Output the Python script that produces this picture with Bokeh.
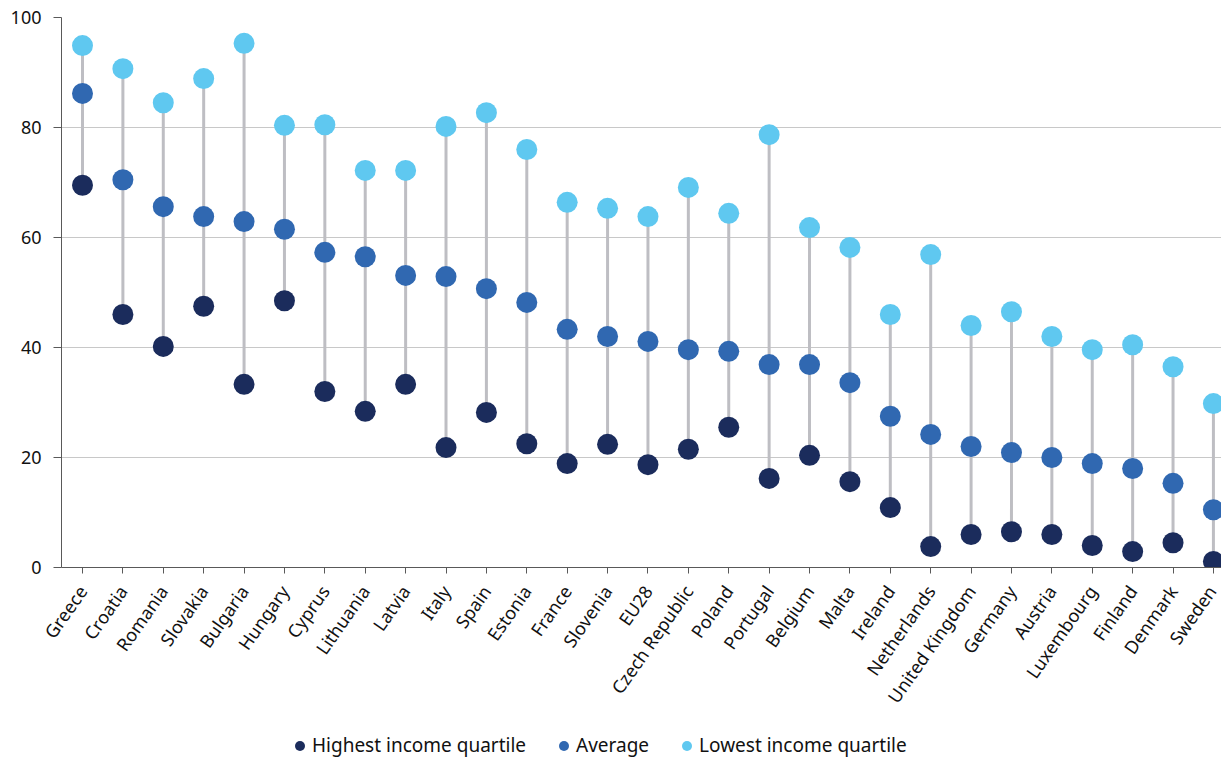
from bokeh.plotting import figure
from bokeh.layouts import column
from bokeh.models import Range1d, FixedTicker, Legend, LegendItem, ColumnDataSource
from bokeh.embed import file_html
from bokeh.resources import INLINE
import math

countries = ["Greece", "Croatia", "Romania", "Slovakia", "Bulgaria", "Hungary", "Cyprus",
             "Lithuania", "Latvia", "Italy", "Spain", "Estonia", "France", "Slovenia", "EU28",
             "Czech Republic", "Poland", "Portugal", "Belgium", "Malta", "Ireland", "Netherlands",
             "United Kingdom", "Germany", "Austria", "Luxembourg", "Finland", "Denmark", "Sweden"]
highest = [69.5, 46.0, 40.2, 47.5, 33.3, 48.5, 32.0, 28.4, 33.3, 21.8, 28.2, 22.5, 18.9, 22.4, 18.7,
           21.5, 25.5, 16.2, 20.4, 15.6, 10.9, 3.8, 6.0, 6.5, 6.0, 4.0, 2.9, 4.5, 1.1]
average = [86.2, 70.5, 65.6, 63.8, 62.9, 61.5, 57.3, 56.5, 53.1, 52.9, 50.7, 48.2, 43.3, 42.0, 41.1,
           39.6, 39.3, 36.9, 36.9, 33.6, 27.5, 24.2, 22.0, 20.9, 20.0, 18.9, 18.0, 15.3, 10.5]
lowest = [94.9, 90.7, 84.5, 88.9, 95.3, 80.4, 80.5, 72.2, 72.2, 80.2, 82.7, 76.0, 66.4, 65.3, 63.8,
          69.1, 64.4, 78.7, 61.8, 58.2, 46.0, 56.9, 44.0, 46.5, 42.0, 39.6, 40.5, 36.5, 29.8]
y_ticks = [0, 20, 40, 60, 80, 100]
series_names = ["Highest income quartile", "Average", "Lowest income quartile"]

FONT = "Noto Sans"
C_HIGH = "#1B2C5C"
C_AVG = "#3068B1"
C_LOW = "#5FC8F0"
C_STEM = "#BEBEC3"

xs = list(range(len(countries)))
src = ColumnDataSource(dict(x=xs, high=highest, avg=average, low=lowest))

p = figure(width=1221, height=731, frame_width=1160, frame_height=550,
           output_backend="svg", toolbar_location=None,
           x_range=Range1d(-0.52, 28.2), y_range=Range1d(0, 100),
           min_border_left=61, min_border_right=0, min_border_top=17, min_border_bottom=164)
p.outline_line_color = None
p.background_fill_color = "white"

p.segment(x0="x", y0="high", x1="x", y1="low", source=src, line_color=C_STEM, line_width=3)
p.scatter("x", "high", source=src, size=21, fill_color=C_HIGH, line_color=None)
p.scatter("x", "avg", source=src, size=21, fill_color=C_AVG, line_color=None)
p.scatter("x", "low", source=src, size=21, fill_color=C_LOW, line_color=None)

# x axis
p.xaxis.ticker = FixedTicker(ticks=xs)
p.xaxis.major_label_overrides = {i: c for i, c in enumerate(countries)}
p.xaxis.major_label_orientation = 55 * math.pi / 180
p.xaxis.major_label_text_font = FONT
p.xaxis.major_label_text_font_size = "18px"
p.xaxis.major_label_text_color = "#111111"
p.xaxis.axis_line_color = "#595959"
p.xaxis.major_tick_line_color = "#595959"
p.xaxis.major_tick_out = 6
p.xaxis.major_tick_in = 0
p.xaxis.minor_tick_line_color = None
p.xaxis.major_label_standoff = 14

# y axis
p.yaxis.ticker = FixedTicker(ticks=y_ticks)
p.yaxis.major_label_text_font = FONT
p.yaxis.major_label_text_font_size = "18px"
p.yaxis.major_label_text_color = "#111111"
p.yaxis.axis_line_color = "#595959"
p.yaxis.major_tick_line_color = "#595959"
p.yaxis.major_tick_out = 8
p.yaxis.major_tick_in = 0
p.yaxis.minor_tick_line_color = None
p.yaxis.major_label_standoff = 12

p.xgrid.grid_line_color = None
p.ygrid.ticker = FixedTicker(ticks=y_ticks)
p.ygrid.grid_line_color = "#C8C8C8"
p.ygrid.grid_line_width = 1

# legend strip below the chart
lg = figure(width=1221, height=28, output_backend="svg", toolbar_location=None,
            x_range=Range1d(0, 1), y_range=Range1d(0, 1),
            x_axis_type=None, y_axis_type=None, min_border=0)
lg.outline_line_color = None
lg.grid.visible = False
nan = float("nan")
lh = lg.scatter([nan], [nan], size=10, fill_color=C_HIGH, line_color=None)
la = lg.scatter([nan], [nan], size=10, fill_color=C_AVG, line_color=None)
ll = lg.scatter([nan], [nan], size=10, fill_color=C_LOW, line_color=None)
legend = Legend(items=[LegendItem(label=series_names[0], renderers=[lh]),
                       LegendItem(label=series_names[1], renderers=[la]),
                       LegendItem(label=series_names[2], renderers=[ll])],
                orientation="horizontal", location=(226, 1),
                label_text_font=FONT, label_text_font_size="19px", label_text_color="#111111",
                glyph_width=25, glyph_height=25, label_standoff=0, spacing=25,
                border_line_color=None, background_fill_alpha=0, margin=0, padding=0)
lg.add_layout(legend, "center")

layout = column(p, lg, spacing=0)
open("out.html", "w").write(file_html(layout, INLINE))
